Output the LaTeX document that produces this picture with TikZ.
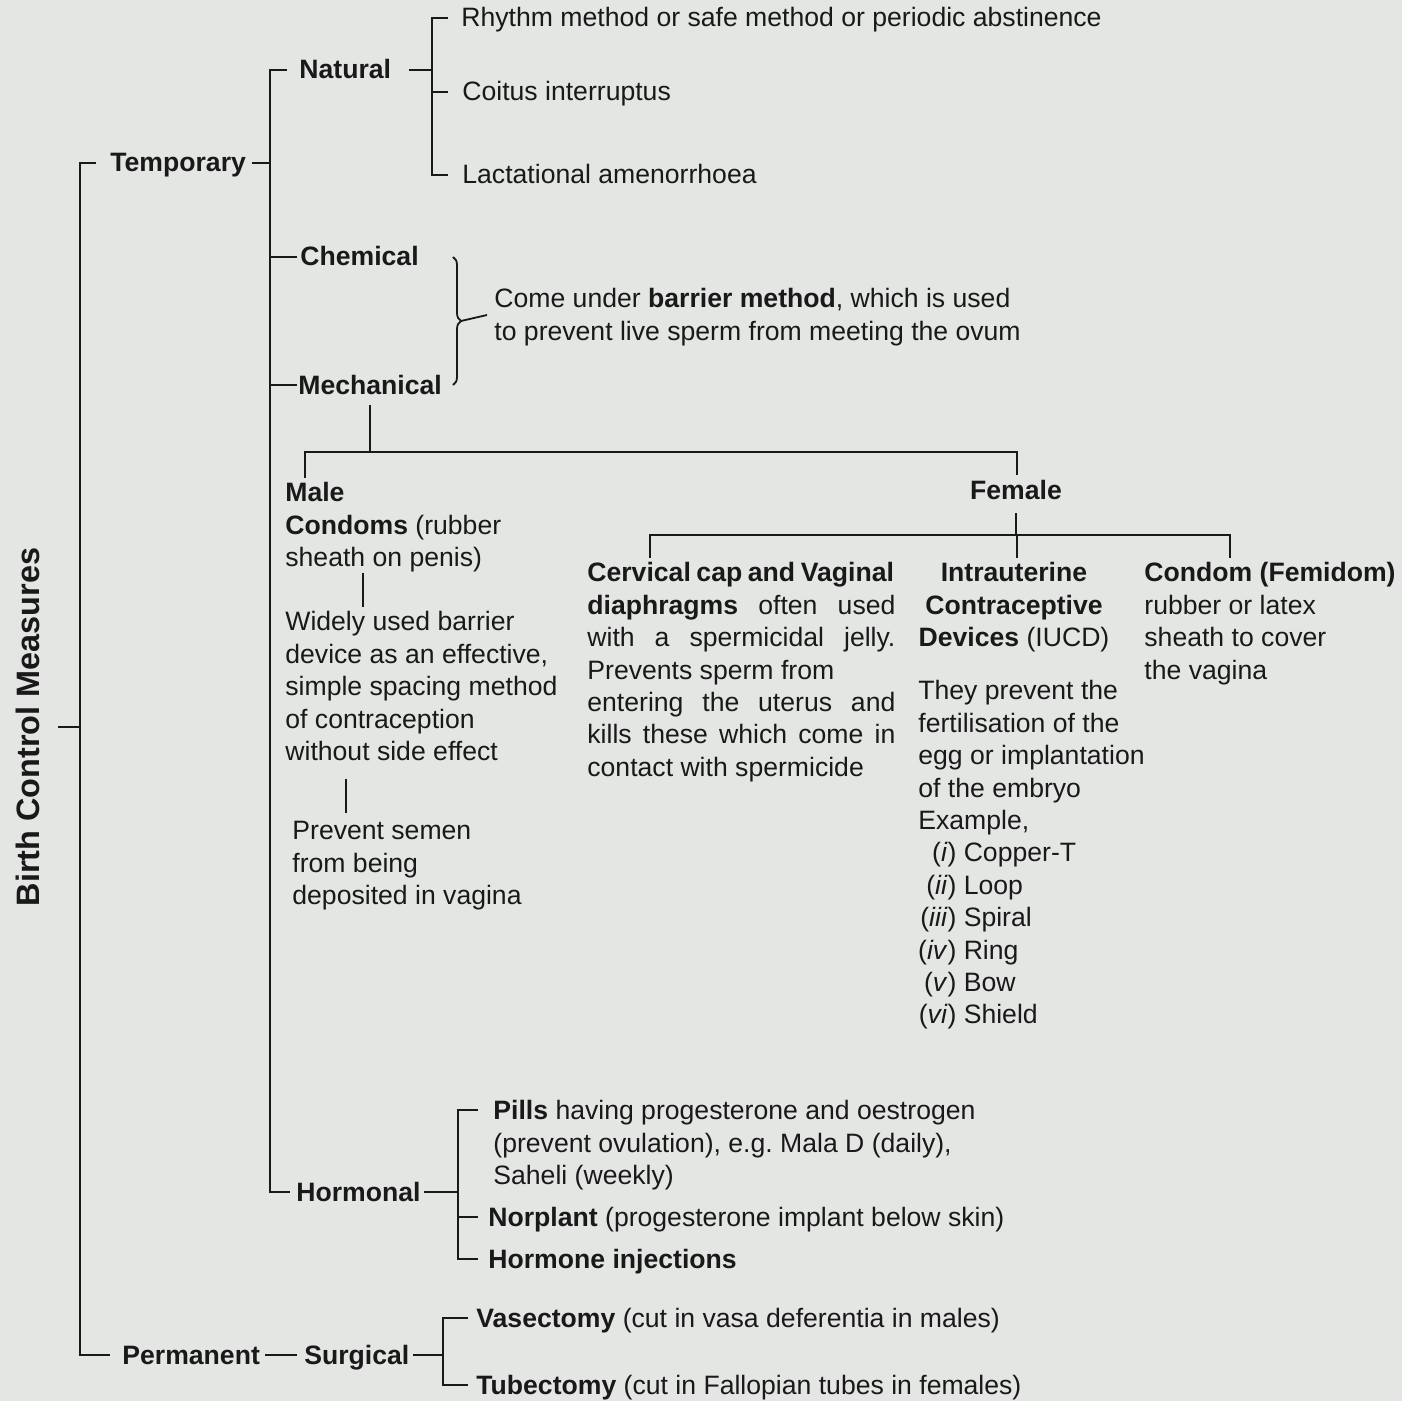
\documentclass[tikz,border=0pt]{standalone}
\usepackage{fontspec}
\setmainfont{Liberation Sans}
\usetikzlibrary{decorations.pathreplacing}
\frenchspacing

\definecolor{paper}{RGB}{228,230,228}
\definecolor{ink}{RGB}{25,25,25}
\newcommand{\bodyfont}{\fontsize{13.3pt}{16.2pt}\selectfont}
\newcommand{\lnstrut}{\rule[-3pt]{0pt}{15pt}}
\newcommand{\romitem}[1]{\makebox[19pt][r]{(\textit{#1})}}

\begin{document}
\begin{tikzpicture}
  [
    x=0.5pt,
    y=-0.5pt,
    lbl/.style={
      inner sep=0,
      text=ink,
      font=\bodyfont,
      align=left
    },
    head/.style={
      lbl,
      font=\bodyfont\bfseries
    },
    link/.style={
      draw=ink,
      line width=0.9pt
    },
    curly/.style={
      link,
      decorate,
      decoration={brace,amplitude=4pt}
    }
  ]

  \useasboundingbox (0,0) rectangle (1402,1401);
  \fill [paper] (0,0) rectangle (1402,1401);

  \coordinate (trunk) at (80,0);
  \coordinate (branch) at (270,0);
  \coordinate (natbr) at (432,0);
  \coordinate (bracex) at (453,0);
  \coordinate (mechbar) at (0,452);
  \coordinate (maledrop) at (305,0);
  \coordinate (femdrop) at (1017,0);
  \coordinate (maleline) at (363,0);
  \coordinate (wideline) at (346,0);
  \coordinate (fembar) at (0,535);
  \coordinate (cervdrop) at (650,0);
  \coordinate (femidomdrop) at (1230,0);
  \coordinate (hormbr) at (458,0);
  \coordinate (surgbr) at (443,0);

  \node [head, rotate=90, font=\fontsize{16.2pt}{19pt}\selectfont\bfseries] (birth) at (28,727) {Birth Control Measures};

  \node [head, anchor=west] (temporary) at (110,163) {\lnstrut Temporary};
  \node [head, anchor=west] (permanent) at (122,1355) {\lnstrut Permanent};
  \node [head, anchor=west] (surgical) at (304,1355) {\lnstrut Surgical};
  \node [head, anchor=west] (natural) at (299,70) {\lnstrut Natural};
  \node [head, anchor=west] (chemical) at (300,257) {\lnstrut Chemical};
  \node [head, anchor=west] (mechanical) at (298,385) {\lnstrut Mechanical};
  \node [head, anchor=west] (hormonal) at (296,1192) {\lnstrut Hormonal};

  \node [lbl, anchor=west] (rhythm) at (461,18) {\lnstrut Rhythm method or safe method or periodic abstinence};
  \node [lbl, anchor=west] (coitus) at (462,92) {\lnstrut Coitus interruptus};
  \node [lbl, anchor=west] (lactational) at (462,175) {\lnstrut Lactational amenorrhoea};
  \node [lbl, anchor=west] (barrier) at (494,315) {\lnstrut Come under \textbf{barrier method}, which is used\\to prevent live sperm from meeting the ovum\lnstrut};

  \node [lbl, anchor=north west] (male) at (285,477.5) {\lnstrut\textbf{Male}\\\textbf{Condoms} (rubber\\sheath on penis)\lnstrut};
  \node [lbl, anchor=north west] (widely) at (285,606.5) {\lnstrut Widely used barrier\\device as an effective,\\simple spacing method\\of contraception\\without side effect\lnstrut};
  \node [lbl, anchor=north west] (prevent) at (292,815.5) {\lnstrut Prevent semen\\from being\\deposited in vagina\lnstrut};

  \node [head] (female) at (1016,490) {\lnstrut Female};
  \node [lbl, anchor=north west, text width=154pt, align=justify] (cervical) at (587,557.5) {\lnstrut{\spaceskip=2.8pt\relax\textbf{Cervical cap and Vaginal}}\linebreak \textbf{diaphragms} often used\linebreak with a spermicidal jelly.\linebreak Prevents sperm from\newline entering the uterus and\linebreak kills these which come in\linebreak contact with spermicide\lnstrut};
  \node [lbl, anchor=north, align=center] (iucd) at (1014,557.5) {\lnstrut\textbf{Intrauterine}\\\textbf{Contraceptive}\\\textbf{Devices} (IUCD)\lnstrut};
  \node [lbl, anchor=north west] (iucdtext) at (918,675.5) {\lnstrut They prevent the\\fertilisation of the\\egg or implantation\\of the embryo\\Example,\\\romitem{i} Copper-T\\\romitem{ii} Loop\\\romitem{iii} Spiral\\\romitem{iv} Ring\\\romitem{v} Bow\\\romitem{vi} Shield\lnstrut};
  \node [lbl, anchor=north west] (femidom) at (1144,557.5) {\lnstrut\textbf{Condom (Femidom)}\\rubber or latex\\sheath to cover\\the vagina\lnstrut};

  \node [lbl, anchor=north west] (pills) at (493,1095.5) {\lnstrut\textbf{Pills} having progesterone and oestrogen\\(prevent ovulation), e.g. Mala D (daily),\\Saheli (weekly)\lnstrut};
  \node [lbl, anchor=west] (norplant) at (488,1217) {\lnstrut\textbf{Norplant} (progesterone implant below skin)};
  \node [head, anchor=west] (injections) at (488,1259) {\lnstrut Hormone injections};

  \node [lbl, anchor=west] (vasectomy) at (476,1318) {\lnstrut\textbf{Vasectomy} (cut in vasa deferentia in males)};
  \node [lbl, anchor=west] (tubectomy) at (476,1385) {\lnstrut\textbf{Tubectomy} (cut in Fallopian tubes in females)};

  \draw [link] ([xshift=9pt]birth.south) -- (trunk |- birth.south);
  \draw [link] ([xshift=-7pt]temporary.west) -| (trunk |- permanent.west) -- ([xshift=-6pt]permanent.west);

  \draw [link] ([xshift=3pt]temporary.east) -- (branch |- temporary.east);
  \draw [link] ([xshift=-6pt]natural.west) -| (branch |- hormonal.west) -- ([xshift=-3pt]hormonal.west);
  \draw [link] ([xshift=-1.5pt]chemical.west) -- (branch |- chemical.west);
  \draw [link] ([xshift=-0.5pt]mechanical.west) -- (branch |- mechanical.west);

  \draw [link] ([xshift=9pt]natural.east) -- (natbr |- natural.east);
  \draw [link] ([xshift=-6.5pt]rhythm.west) -| (natbr |- lactational.west) -- ([xshift=-7pt]lactational.west);
  \draw [link] ([xshift=-7pt]coitus.west) -- (natbr |- coitus.west);

  \draw [curly] (bracex |- chemical.west) -- coordinate (bracemid) (bracex |- mechanical.west);
  \draw [link] ([xshift=4pt]bracemid) -- ([xshift=-3.5pt]barrier.west);

  \draw [link, shorten <=2.5pt] (mechanical.south) -- (mechanical.south |- mechbar);
  \draw [link] (maledrop |- male.north) |- (femdrop |- mechbar) -- (femdrop |- female.north);
  \draw [link] (maleline |- male.south) -- (maleline |- widely.north);
  \draw [link, shorten <=6pt, shorten >=1.5pt] (wideline |- widely.south) -- (wideline |- prevent.north);

  \draw [link, shorten <=4pt] (female.south) -- (female.south |- fembar);
  \draw [link] (cervdrop |- cervical.north) |- (femidomdrop |- fembar) -- (femidomdrop |- femidom.north);
  \draw [link] (femdrop |- fembar) -- (femdrop |- iucd.north);

  \draw [link] ([xshift=1.5pt]hormonal.east) -- (hormbr |- hormonal.east);
  \draw [link] ([shift={(-7.5pt,-7.25pt)}]pills.north west) -| (hormbr |- injections.west) -- ([xshift=-5pt]injections.west);
  \draw [link] ([xshift=-5pt]norplant.west) -- (hormbr |- norplant.west);

  \draw [link] ([xshift=2.5pt]permanent.east) -- ([xshift=-3.5pt]surgical.west);
  \draw [link] ([xshift=1.5pt]surgical.east) -- (surgbr |- surgical.east);
  \draw [link] ([xshift=-4pt]vasectomy.west) -| (surgbr |- tubectomy.west) -- ([xshift=-4pt]tubectomy.west);

\end{tikzpicture}
\end{document}
